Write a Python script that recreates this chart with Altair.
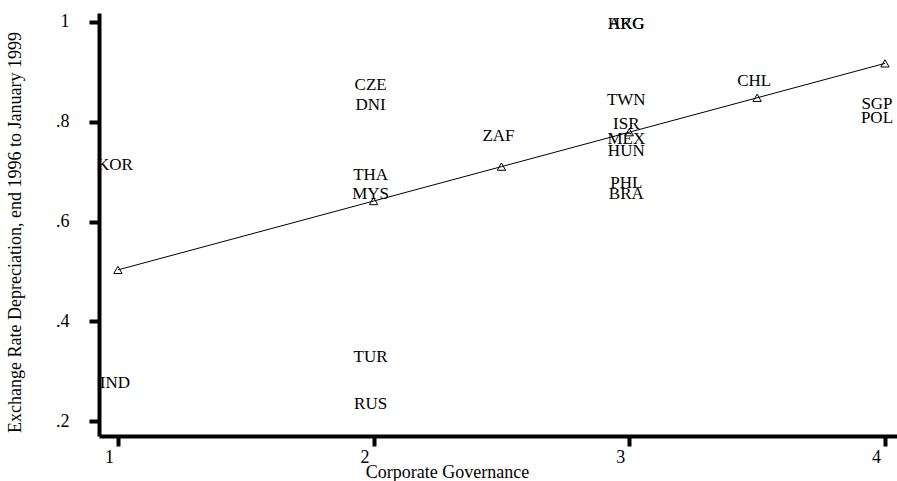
import altair as alt
import pandas as pd

# Country codes with their corporate governance score and exchange-rate depreciation
countries = ["HKG", "ARG", "CZE", "DNI", "THA", "MYS", "TUR", "RUS", "ZAF", "TWN",
             "ISR", "MEX", "HUN", "PHL", "BRA", "CHL", "SGP", "POL", "KOR", "IND"]
governance = [3, 3, 2, 2, 2, 2, 2, 2, 2.5, 3,
              3, 3, 3, 3, 3, 3.5, 4, 4, 1, 1]
depreciation = [0.996, 0.996, 0.874, 0.834, 0.693, 0.655, 0.328, 0.234, 0.771, 0.844,
                0.795, 0.765, 0.742, 0.678, 0.655, 0.882, 0.836, 0.808, 0.713, 0.276]

# Fitted values at each governance score
fit_x = [1, 2, 2.5, 3, 3.5, 4]
fit_y = [0.503, 0.641, 0.710, 0.779, 0.848, 0.917]

x_ticks = [1, 2, 3, 4]
y_ticks = [0.2, 0.4, 0.6, 0.8, 1.0]

pts = pd.DataFrame({"country": countries, "governance": governance,
                    "depreciation": depreciation})
fit = pd.DataFrame({"governance": fit_x, "depreciation": fit_y})

FONT = "Liberation Serif"

x_scale = alt.Scale(domain=[0.926, 4.047], nice=False, zero=False)
y_scale = alt.Scale(domain=[0.170, 1.018], nice=False, zero=False)

x_enc = alt.X(
    "governance:Q", scale=x_scale,
    axis=alt.Axis(
        values=x_ticks, format="d", title="Corporate Governance",
        grid=False, domainColor="black", domainWidth=4,
        tickColor="black", tickWidth=4, tickSize=10,
        labelFont=FONT, labelFontSize=18, labelColor="black",
        labelPadding=2, labelOffset=-9,
        titleFont=FONT, titleFontSize=18, titleFontWeight="normal",
        titleColor="black", titleX=348, titleY=36, titleBaseline="middle",
        titleAlign="center",
    ),
)
y_enc = alt.Y(
    "depreciation:Q", scale=y_scale,
    axis=alt.Axis(
        values=y_ticks,
        labelExpr="datum.value >= 1 ? '1' : '.' + round(datum.value * 10)",
        title="Exchange Rate Depreciation, end 1996 to January 1999",
        grid=False, domainColor="black", domainWidth=4,
        tickColor="black", tickWidth=4, tickSize=10,
        labelFont=FONT, labelFontSize=18, labelColor="black",
        labelPadding=20, labelBaseline="middle",
        titleFont=FONT, titleFontSize=18, titleFontWeight="normal",
        titleColor="black", titleAngle=-90, titleX=-84, titleY=219,
        titleBaseline="middle", titleAlign="center",
    ),
)

line = alt.Chart(fit).mark_line(color="black", strokeWidth=1).encode(x=x_enc, y=y_enc)
tri = alt.Chart(fit).mark_point(
    shape="triangle-up", filled=False, color="black", size=70, strokeWidth=1, opacity=1
).encode(x="governance:Q", y="depreciation:Q")

labels = alt.Chart(pts).transform_filter("datum.governance < 4").mark_text(
    font=FONT, fontSize=17, color="black", align="center", baseline="middle", dx=-3
).encode(x="governance:Q", y="depreciation:Q", text="country:N")

edge_labels = alt.Chart(pts).transform_filter("datum.governance >= 4").mark_text(
    font=FONT, fontSize=17, color="black", align="center", baseline="middle", dx=-8
).encode(x="governance:Q", y="depreciation:Q", text="country:N")

chart = alt.layer(line, tri, labels, edge_labels).properties(
    width=798, height=423,
    autosize=alt.AutoSizeParams(type="none"),
    padding={"left": 99, "top": 13, "right": 0, "bottom": 45},
    background="white",
).configure_view(stroke=None)

chart.save("out.html", embed_options={"renderer": "svg", "actions": False})
